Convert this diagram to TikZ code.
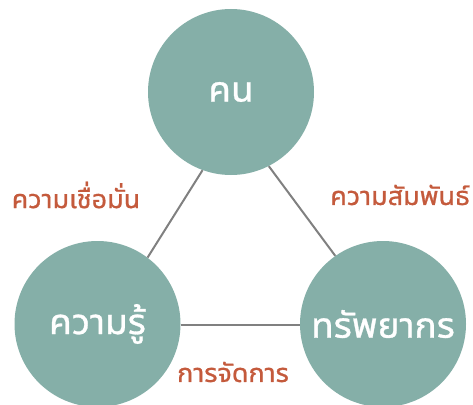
\documentclass[tikz,border=0pt]{standalone}
\usepackage{fontspec}
\newfontfamily\thaifont[Script=Thai,FakeBold=0.8]{Noto Sans Thai UI}
\definecolor{circfill}{RGB}{133,175,168}
\definecolor{labred}{RGB}{196,90,60}
\definecolor{linegray}{RGB}{128,128,128}
\begin{document}
\begin{tikzpicture}[x=1pt,y=1pt,
  bubble/.style={circle,fill=circfill,inner sep=0pt,minimum size=166pt,text=white,font=\thaifont\fontsize{37}{44}\selectfont},
  lab/.style={text=labred,inner sep=0pt,font=\thaifont\fontsize{27}{32}\selectfont},
  link/.style={draw=linegray,line width=2pt}]
\useasboundingbox (0,0) rectangle (473,-404);
\node[bubble] (T) at (231,-92) {\raisebox{-5pt}{คน}};
\node[bubble] (L) at (97.5,-324) {\raisebox{-2pt}{ความรู้}};
\node[bubble] (R) at (383,-324) {\raisebox{-2pt}{ทรัพยากร}};
\draw[link] (T.250) -- (L.53);
\draw[link] (T.297) -- (R.125);
\draw[link] (L.-1) -- (R.181);
\node[lab] (a) at (76,-195) {ความเชื่อมั่น};
\node[lab] (b) at (400,-195) {ความสัมพันธ์};
\node[lab] (c) at (233,-372) {การจัดการ};
\end{tikzpicture}
\end{document}
